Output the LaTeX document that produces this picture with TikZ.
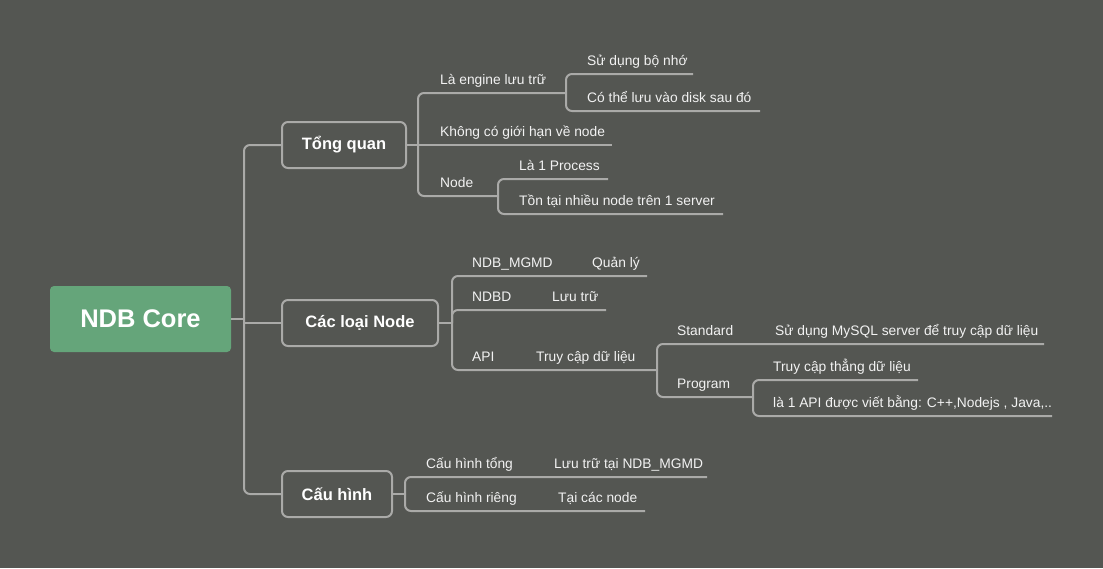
\documentclass[tikz,border=0pt]{standalone}
\usepackage{fontspec}
\setmainfont{Liberation Sans}

\definecolor{bgcol}{RGB}{84,86,82}
\definecolor{linecol}{RGB}{170,170,168}
\definecolor{rootcol}{RGB}{101,165,122}
\definecolor{txtcol}{RGB}{242,242,242}

\begin{document}
\begin{tikzpicture}[x=1pt,y=-1pt]
    % Define styles for the map
    \tikzstyle{root} = [rectangle, rounded corners=4pt, fill=rootcol, minimum width=181pt, minimum height=66pt, text=white, font=\fontsize{25.5}{30}\selectfont\bfseries]
    \tikzstyle{topic} = [draw=linecol, line width=2pt, rectangle, rounded corners=6pt, fill=bgcol, minimum height=46pt, text=white, font=\fontsize{16.5}{20}\selectfont\bfseries]
    \tikzstyle{leaf} = [anchor=base west, inner sep=0pt, text=txtcol, font=\fontsize{13.8}{16}\selectfont]
    \tikzstyle{link} = [draw=linecol, line width=2pt, rounded corners=6pt]

    \fill[bgcol] (0,0) rectangle (1103,568);
    \useasboundingbox (0,0) rectangle (1103,568);

    % Root and main topics
    \node(ndb)[root] at (140.5,319) {NDB Core};
    \node(tq)[topic, minimum width=124pt] at (344,145) {Tổng quan};
    \node(cln)[topic, minimum width=156pt] at (360,323) {Các loại Node};
    \node(ch)[topic, minimum width=110pt] at (337,494) {Cấu hình};

    % Junctions and line ends
    \foreach \cname/\cx/\cy in {jroot/244/319, jtq/418/145, jcln/452/323, jch/405/494,
        jengine/566/93, jnode/498/196, japi/657/370, jprog/753/397,
        egioihan/612/145, ebonho/693/74, edisk/760/111, eprocess/608/179, enhieu/723/214,
        emgmd/647/276, endbd/606/310, estandard/1044/344, ethang/918/380, eapilang/1052/416,
        etong/707/477, erieng/645/511} {
        \coordinate (\cname) at (\cx,\cy);
      }

    % Leaves
    \node(engine)[leaf] at (440,84) {Là engine lưu trữ};
    \node(bonho)[leaf] at (587,65) {Sử dụng bộ nhớ};
    \node(disk)[leaf] at (587,102) {Có thể lưu vào disk sau đó};
    \node(gioihan)[leaf] at (440,136) {Không có giới hạn về node};
    \node(nodeitem)[leaf] at (440,187) {Node};
    \node(process)[leaf] at (519,170) {Là 1 Process};
    \node(nhieunode)[leaf] at (519,205) {Tồn tại nhiều node trên 1 server};

    \node(mgmd)[leaf] at (472,267) {NDB\_MGMD};
    \node(quanly)[leaf] at (592,267) {Quản lý};
    \node(ndbd)[leaf] at (472,301) {NDBD};
    \node(luutru)[leaf] at (552,301) {Lưu trữ};
    \node(api)[leaf] at (472,361) {API};
    \node(truycap)[leaf] at (536,361) {Truy cập dữ liệu};
    \node(standard)[leaf] at (677,335) {Standard};
    \node(mysql)[leaf] at (775,335) {Sử dụng MySQL server để truy cập dữ liệu};
    \node(program)[leaf] at (677,388) {Program};
    \node(thang)[leaf] at (773,371) {Truy cập thẳng dữ liệu};
    \node(apilang)[leaf] at (773,407) {là 1 API được viết bằng: C++,Nodejs , Java,..};

    \node(chtong)[leaf] at (426,468) {Cấu hình tổng};
    \node(luumgmd)[leaf] at (554,468) {Lưu trữ tại NDB\_MGMD};
    \node(chrieng)[leaf] at (426,502) {Cấu hình riêng};
    \node(taicac)[leaf] at (558,502) {Tại các node};

    % Trunk
    \draw[link] (ndb) -- (jroot);
    \draw[link] (tq.west) -| (jroot) |- (ch.west);
    \draw[link] (jroot |- cln.west) -- (cln.west);

    % Tong quan
    \draw[link] (tq) -- (jtq);
    \draw[link] (jtq) |- (jengine);
    \draw[link] (jtq) -- (egioihan);
    \draw[link] (jtq) |- (jnode);
    \draw[link] (jengine) |- (ebonho);
    \draw[link] (jengine) |- (edisk);
    \draw[link] (jnode) |- (eprocess);
    \draw[link] (jnode) |- (enhieu);

    % Cac loai Node
    \draw[link] (cln) -- (jcln);
    \draw[link] (jcln) |- (emgmd);
    \draw[link] (jcln) |- (endbd);
    \draw[link] (jcln) |- (japi);
    \draw[link] (japi) |- (estandard);
    \draw[link] (japi) |- (jprog);
    \draw[link] (jprog) |- (ethang);
    \draw[link] (jprog) |- (eapilang);

    % Cau hinh
    \draw[link] (ch) -- (jch);
    \draw[link] (jch) |- (etong);
    \draw[link] (jch) |- (erieng);
  \end{tikzpicture}
\end{document}
